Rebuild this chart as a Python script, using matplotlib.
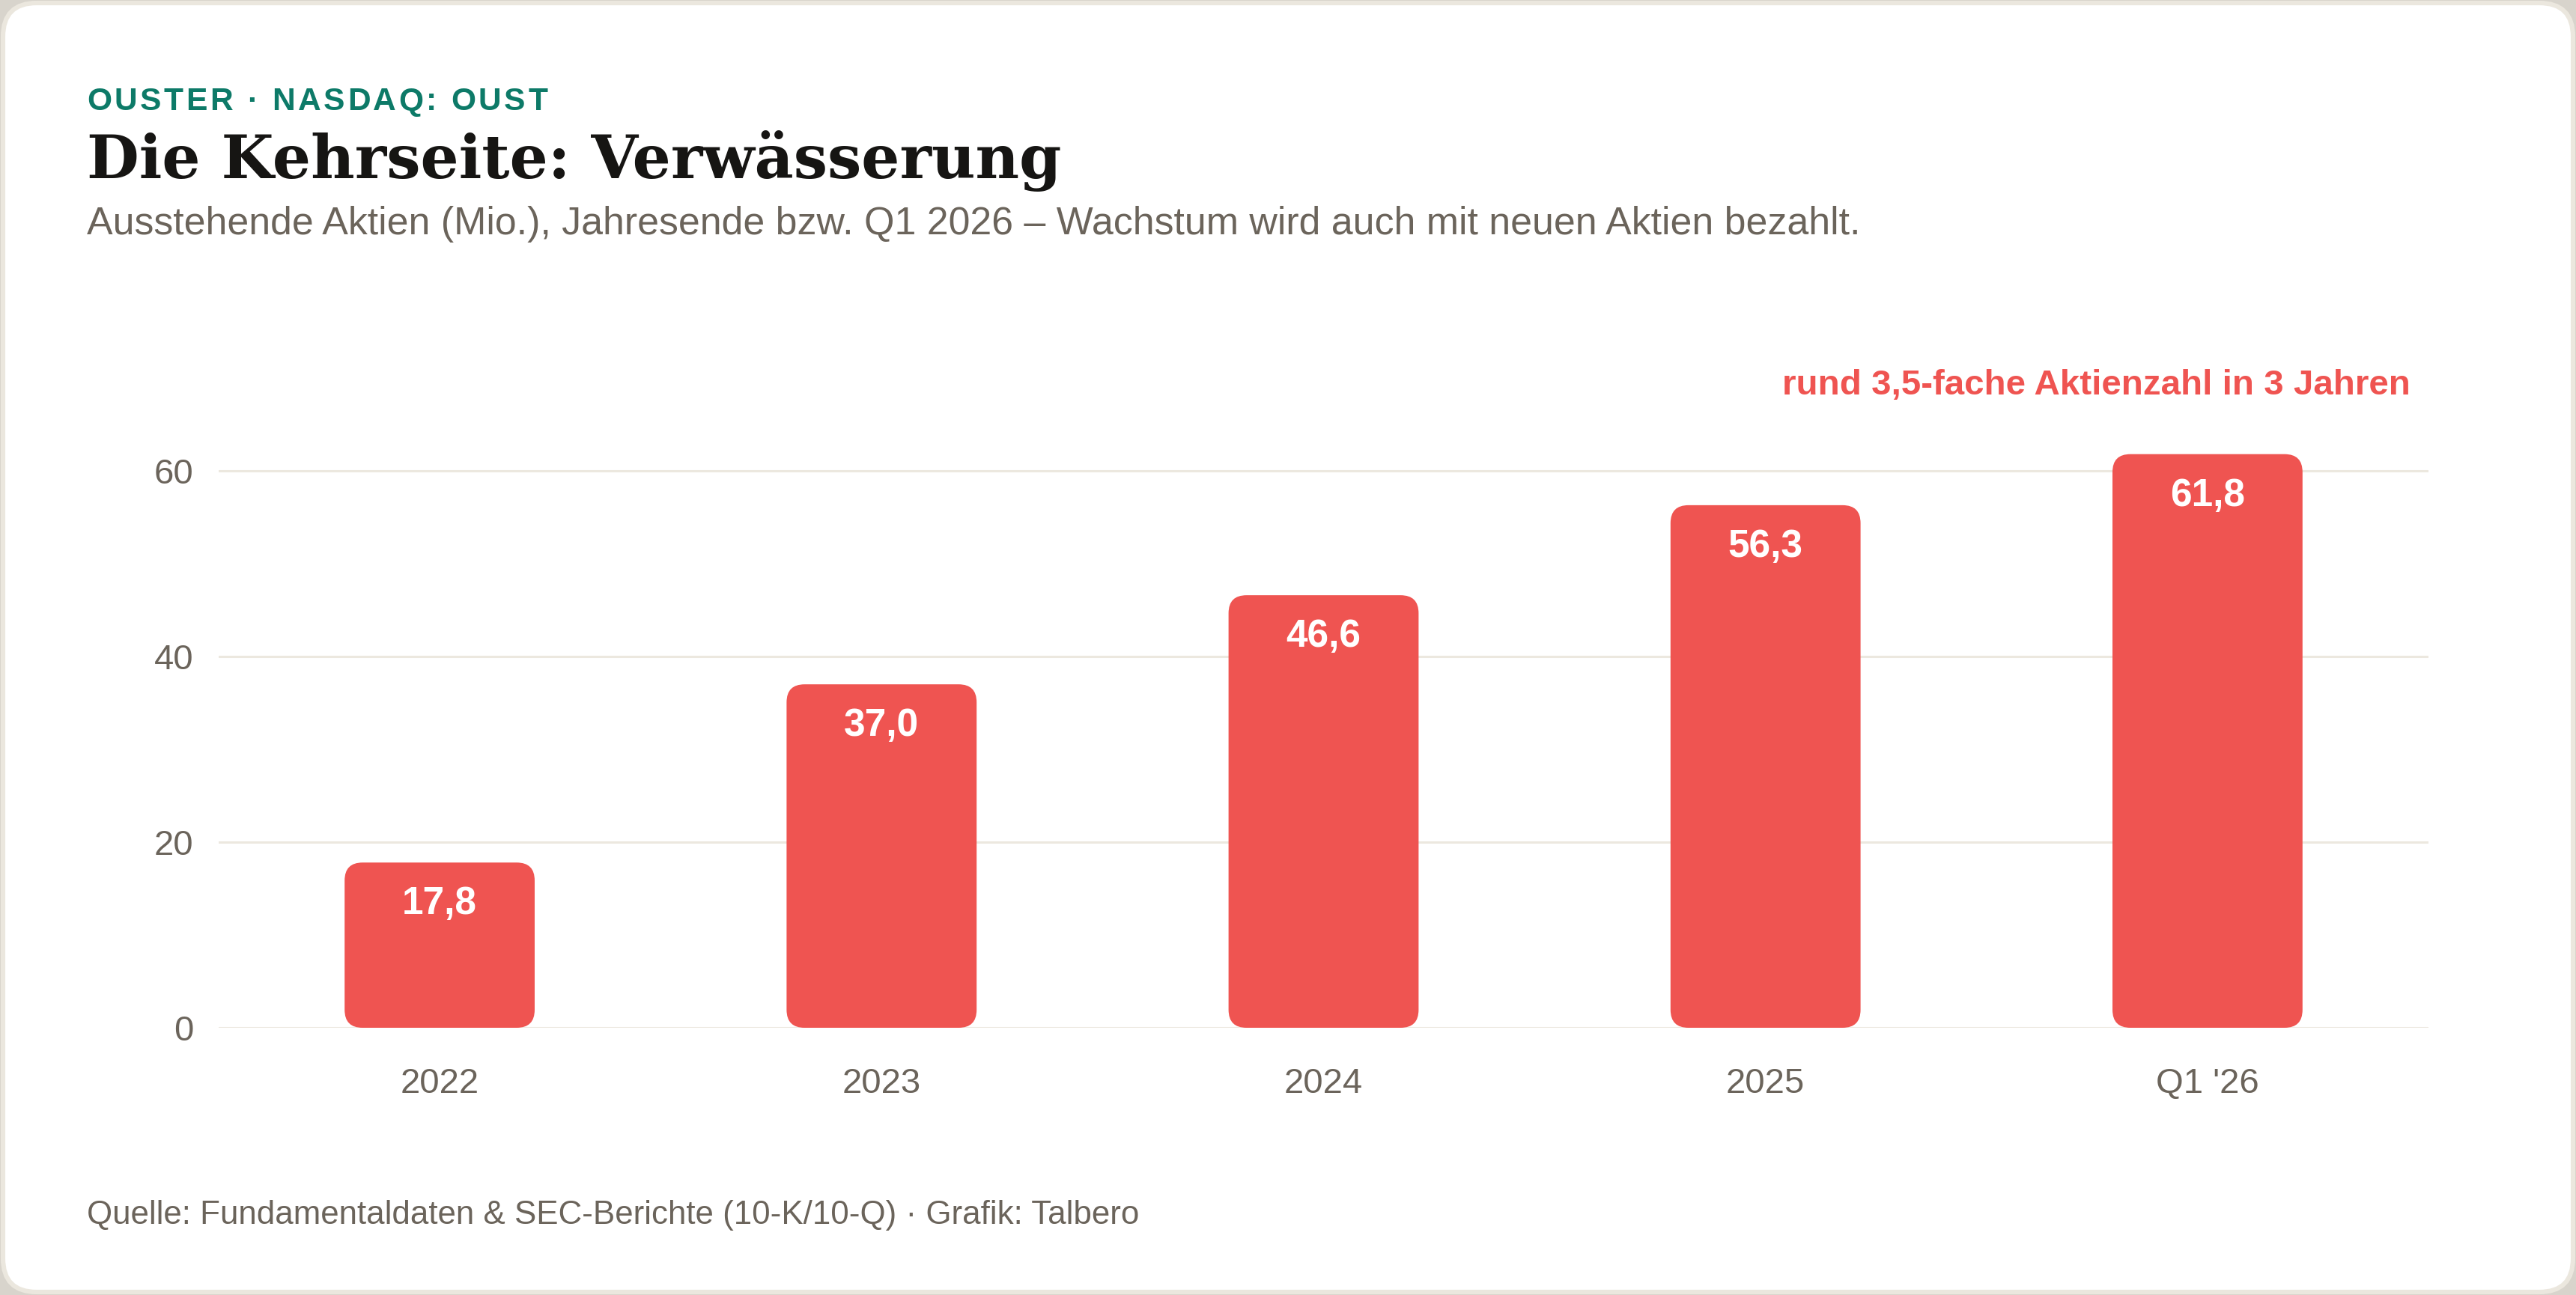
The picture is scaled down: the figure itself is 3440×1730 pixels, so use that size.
#!/usr/bin/env python3
"""Ouster share count bar chart (Verwässerung), recreated with matplotlib."""

import matplotlib

matplotlib.use("Agg")
import matplotlib.pyplot as plt
from matplotlib.patches import FancyBboxPatch
from matplotlib.transforms import IdentityTransform

# data
categories = ["2022", "2023", "2024", "2025", "Q1 '26"]
shares_mio = [17.8, 37.0, 46.6, 56.3, 61.8]
y_ticks = [0, 20, 40, 60]

kicker = "OUSTER · NASDAQ: OUST"
title = "Die Kehrseite: Verwässerung"
subtitle = ("Ausstehende Aktien (Mio.), Jahresende bzw. Q1 2026 – "
            "Wachstum wird auch mit neuen Aktien bezahlt.")
note = "rund 3,5-fache Aktienzahl in 3 Jahren"
source = "Quelle: Fundamentaldaten & SEC-Berichte (10-K/10-Q) · Grafik: Talbero"

# colours
BG_OUT = "#d8d4cc"
CARD_EDGE = "#ebe7de"
TEAL = "#0d7a68"
INK = "#161513"
MUTED = "#6b645b"
RED = "#ef5451"
GRID = "#ece8df"

W, H, DPI = 3440, 1730, 200
SANS = "Liberation Sans"

fig = plt.figure(figsize=(W / DPI, H / DPI), dpi=DPI, facecolor=BG_OUT)

# white card with rounded corners (pixel coordinates), kept behind the axes
card = FancyBboxPatch((4, 4), W - 8, H - 8,
                      boxstyle="round,pad=0,rounding_size=45",
                      facecolor="white", edgecolor=CARD_EDGE, linewidth=2.2,
                      transform=IdentityTransform(), zorder=-10)
fig.patches.append(card)


def spaced_text(x_px, y_px, text, spacing_px, **kw):
    """Draw text char by char with extra letter spacing (pixel coords)."""
    renderer = fig.canvas.get_renderer()
    x = x_px
    for ch in text:
        t = fig.text(x / W, 1 - y_px / H, ch, va="baseline", ha="left", **kw)
        bb = t.get_window_extent(renderer=renderer)
        x += bb.width + spacing_px


# header
spaced_text(116, 147, kicker, 3.6, fontsize=15.3, fontweight="bold",
            color=TEAL, family=SANS)
fig.text(116 / W, 1 - 238 / H, title, fontsize=29, fontweight="bold",
         color=INK, family="DejaVu Serif", va="baseline", ha="left")
fig.text(116 / W, 1 - 313 / H, subtitle, fontsize=18.7, color=MUTED,
         family=SANS, va="baseline", ha="left")
fig.text(3219 / W, 1 - 527 / H, note, fontsize=17.1, fontweight="bold",
         color=RED, family=SANS, va="baseline", ha="right")
fig.text(116 / W, 1 - 1635 / H, source, fontsize=15.8, color=MUTED,
         family=SANS, va="baseline", ha="left")

# axes
ax_left, ax_right, ax_top, ax_bottom = 292, 3243, 567, 1373
ax = fig.add_axes([ax_left / W, 1 - ax_bottom / H,
                   (ax_right - ax_left) / W, (ax_bottom - ax_top) / H])
ax.set_facecolor("none")
ax.set_xlim(-0.5, len(categories) - 0.5)
ax.set_ylim(0, 65)
ax.set_yticks(y_ticks)
ax.set_xticks(range(len(categories)))
ax.set_xticklabels(categories)
ax.yaxis.grid(True, color=GRID, linewidth=1.1)
ax.set_axisbelow(True)
for s in ax.spines.values():
    s.set_visible(False)
ax.tick_params(axis="both", length=0, colors=MUTED, labelsize=17)
ax.tick_params(axis="x", pad=19)
ax.tick_params(axis="y", pad=12)
for lab in ax.get_xticklabels() + ax.get_yticklabels():
    lab.set_family(SANS)

bars = ax.bar(range(len(categories)), shares_mio, width=0.43, color=RED)

# swap plain bars for rounded ones
px_x = ax.transData.transform((1, 0))[0] - ax.transData.transform((0, 0))[0]
px_y = ax.transData.transform((0, 1))[1] - ax.transData.transform((0, 0))[1]
radius_px = 24
for b in bars:
    x0, w, h = b.get_x(), b.get_width(), b.get_height()
    b.set_visible(False)
    rb = FancyBboxPatch((x0, 0), w, h,
                        boxstyle=f"round,pad=0,rounding_size={radius_px / px_x}",
                        mutation_aspect=px_x / px_y,
                        facecolor=RED, edgecolor="none", zorder=3)
    ax.add_patch(rb)

for i, v in enumerate(shares_mio):
    ax.annotate(f"{v:.1f}".replace(".", ","), xy=(i, v), xytext=(0, -20),
                textcoords="offset points", ha="center", va="center",
                fontsize=18.5, fontweight="bold", color="white",
                family=SANS, zorder=4)

fig.savefig("out.png", dpi=DPI, facecolor=fig.get_facecolor())
